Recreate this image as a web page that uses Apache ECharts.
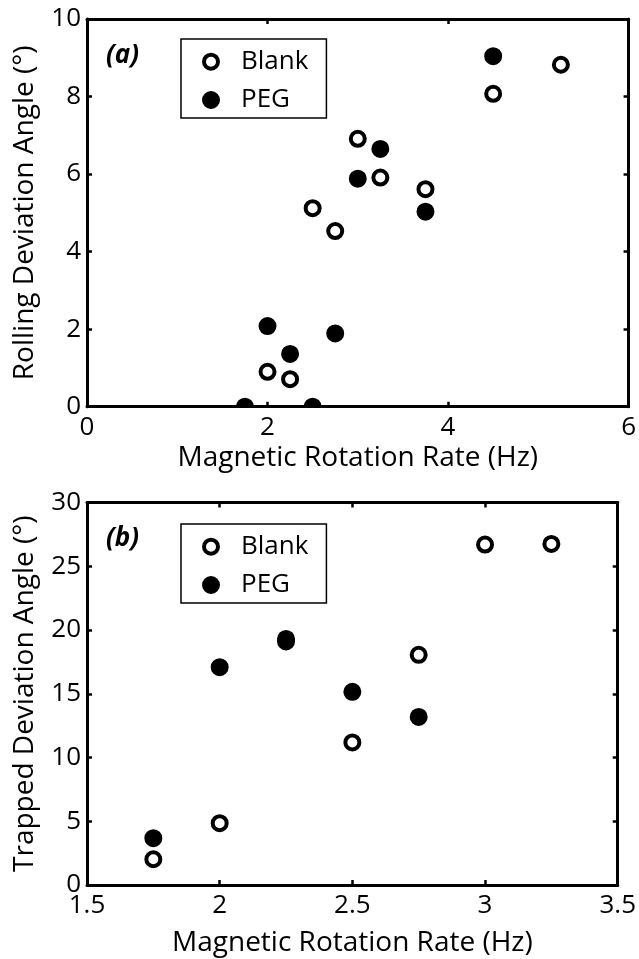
<!DOCTYPE html>
<html>
<head>
<meta charset="utf-8">
<script src="https://cdn.jsdelivr.net/npm/echarts@6/dist/echarts.min.js"></script>
<style>
  html, body { margin: 0; padding: 0; background: #fff; }
  #chart { width: 639px; height: 959px; }
</style>
</head>
<body>
<div id="chart"></div>
<script>
// (a) rolling deviation angle vs. magnetic rotation rate
const rollingBlankX = [2, 2.25, 2.5, 2.75, 3, 3.25, 3.75, 4.5, 5.25];
const rollingBlankY = [0.9, 0.71, 5.12, 4.53, 6.91, 5.91, 5.61, 8.07, 8.82];
const rollingPegX = [1.75, 2, 2.25, 2.5, 2.75, 3, 3.25, 3.75, 4.5];
const rollingPegY = [0, 2.08, 1.36, 0, 1.89, 5.88, 6.65, 5.03, 9.04];
const rollingXTicks = [0, 2, 4, 6];
const rollingYTicks = [0, 2, 4, 6, 8, 10];

// (b) trapped deviation angle vs. magnetic rotation rate
const trappedBlankX = [1.75, 2, 2.5, 2.75, 3, 3.25];
const trappedBlankY = [2.02, 4.85, 11.18, 18.05, 26.7, 26.75];
const trappedPegX = [1.75, 2, 2.25, 2.25, 2.5, 2.75];
const trappedPegY = [3.67, 17.08, 19.3, 19.1, 15.15, 13.18];
const trappedXTicks = [1.5, 2, 2.5, 3, 3.5];
const trappedYTicks = [0, 5, 10, 15, 20, 25, 30];

const seriesNames = ['Blank', 'PEG'];
const xTitle = 'Magnetic Rotation Rate (Hz)';
const rollingYTitle = 'Rolling Deviation Angle (°)';
const trappedYTitle = 'Trapped Deviation Angle (°)';

const FONT = 'Open Sans';
const INK = '#000';

const zip = (xs, ys) => xs.map((x, i) => [x, ys[i]]);

// Circle marker drawn through the axis scales and clipped to the plot area.
function dot(filled) {
  return function (params, api) {
    const p = api.coord([api.value(0), api.value(1)]);
    const cs = params.coordSys;
    return {
      type: 'circle',
      shape: { cx: p[0], cy: p[1], r: 7 },
      clipPath: { type: 'rect', shape: { x: cs.x, y: cs.y, width: cs.width, height: cs.height } },
      style: filled
        ? { fill: INK, stroke: INK, lineWidth: 4 }
        : { fill: 'transparent', stroke: INK, lineWidth: 4 }
    };
  };
}

function markerSeries(name, filled, data, axisIdx) {
  return {
    type: 'custom',
    name: name,
    xAxisIndex: axisIdx,
    yAxisIndex: axisIdx,
    renderItem: dot(filled),
    itemStyle: { color: INK },
    encode: { x: 0, y: 1 },
    data: data,
    z: 3
  };
}

function valueAxis(ticks, gridIndex, position, opts) {
  return Object.assign({
    type: 'value',
    gridIndex: gridIndex,
    position: position,
    min: ticks[0],
    max: ticks[ticks.length - 1],
    interval: ticks[1] - ticks[0],
    splitLine: { show: false },
    axisLine: { show: true, onZero: false, lineStyle: { color: INK, width: 3 } },
    axisTick: { show: true, inside: true, length: 5, lineStyle: { color: INK, width: 2.5 } },
    axisLabel: { show: false }
  }, opts || {});
}

const tickLabel = (margin) => ({
  show: true,
  color: INK,
  fontFamily: FONT,
  fontSize: 26,
  margin: margin,
  formatter: (v) => String(v)
});

const axisName = (text, gap) => ({
  name: text,
  nameLocation: 'middle',
  nameGap: gap,
  nameTextStyle: { color: INK, fontFamily: FONT, fontSize: 28, lineHeight: 30 }
});

function legendFor(top) {
  return {
    orient: 'vertical',
    left: 181,
    top: top,
    padding: [9.7, 18, 5, 21],
    itemGap: 12.3,
    itemWidth: 50,
    itemHeight: 14,
    backgroundColor: '#fff',
    borderColor: INK,
    borderWidth: 1.5,
    borderRadius: 0,
    selectedMode: false,
    textStyle: { color: INK, fontFamily: FONT, fontSize: 26 },
    data: [
      { name: seriesNames[0], icon: 'circle', itemStyle: { color: 'transparent', borderColor: INK, borderWidth: 4 } },
      { name: seriesNames[1], icon: 'circle', itemStyle: { color: INK, borderColor: INK, borderWidth: 4 } }
    ]
  };
}

const panelLabelStyle = { color: INK, fontFamily: FONT, fontSize: 26, fontWeight: 'bold', fontStyle: 'italic' };

const option = {
  backgroundColor: '#fff',
  animation: false,
  title: [
    { text: '(a)', left: 106, top: 43, padding: 0, textStyle: panelLabelStyle },
    { text: '(b)', left: 106, top: 526, padding: 0, textStyle: panelLabelStyle }
  ],
  legend: [legendFor(39), legendFor(524)],
  grid: [
    { left: 87, top: 19, right: 10, bottom: 552.3 },
    { left: 87, top: 502.5, right: 21, bottom: 67 }
  ],
  xAxis: [
    valueAxis(rollingXTicks, 0, 'bottom', Object.assign({ axisLabel: tickLabel(8) }, axisName(xTitle, 36))),
    valueAxis(rollingXTicks, 0, 'top'),
    valueAxis(trappedXTicks, 1, 'bottom', Object.assign({ axisLabel: tickLabel(8) }, axisName(xTitle, 43))),
    valueAxis(trappedXTicks, 1, 'top')
  ],
  yAxis: [
    valueAxis(rollingYTicks, 0, 'left', Object.assign({ axisLabel: tickLabel(6) }, axisName(rollingYTitle, 44))),
    valueAxis(rollingYTicks, 0, 'right'),
    valueAxis(trappedYTicks, 1, 'left', Object.assign({ axisLabel: tickLabel(6) }, axisName(trappedYTitle, 44))),
    valueAxis(trappedYTicks, 1, 'right')
  ],
  series: [
    markerSeries(seriesNames[0], false, zip(rollingBlankX, rollingBlankY), 0),
    markerSeries(seriesNames[1], true, zip(rollingPegX, rollingPegY), 0),
    markerSeries(seriesNames[0], false, zip(trappedBlankX, trappedBlankY), 2),
    markerSeries(seriesNames[1], true, zip(trappedPegX, trappedPegY), 2)
  ]
};

const chart = echarts.init(document.getElementById('chart'), null, { renderer: 'canvas' });
chart.setOption(option);
</script>
</body>
</html>
